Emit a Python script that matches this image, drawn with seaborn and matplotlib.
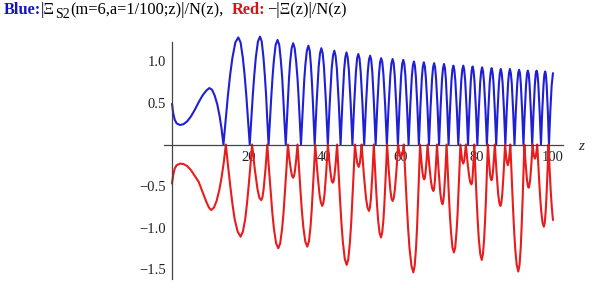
import matplotlib
matplotlib.use("Agg")
import matplotlib.pyplot as plt
import numpy as np
import seaborn as sns

# ---------------- data ----------------
# blue curve |Xi_S2(m=6,a=1/100;z)|/N(z): (z, value) points
blue_points = [
    (0.0, 0.49), (0.3, 0.38), (0.7, 0.30), (1.2, 0.255), (2.1, 0.235), (3.0, 0.245),
    (4.0, 0.28), (5.0, 0.34), (6.0, 0.42), (7.0, 0.51), (8.0, 0.59), (9.0, 0.65),
    (9.8, 0.68), (10.5, 0.66), (11.2, 0.59), (11.9, 0.48), (12.5, 0.34), (13.0, 0.19), (13.5, 0.0),
    (14.09, 0.30), (14.67, 0.59), (15.26, 0.84), (15.84, 1.04), (16.62, 1.23), (17.4, 1.29),
    (18.0, 1.23), (18.6, 1.04), (19.05, 0.84), (19.5, 0.59), (19.95, 0.30), (20.4, 0.0),
    (20.8, 0.30), (21.2, 0.59), (21.6, 0.84), (22.0, 1.05), (22.55, 1.24), (23.1, 1.30),
    (23.55, 1.24), (24.0, 1.05), (24.35, 0.84), (24.7, 0.59), (25.0, 0.30), (25.35, 0.0),
    (25.7, 0.29), (26.05, 0.57), (26.4, 0.82), (26.75, 1.02), (27.2, 1.20), (27.7, 1.26),
    (28.15, 1.20), (28.55, 1.02), (28.9, 0.82), (29.2, 0.57), (29.5, 0.29), (29.85, 0.0),
    (30.15, 0.28), (30.45, 0.55), (30.7, 0.79), (31.0, 0.99), (31.4, 1.16), (31.8, 1.22),
    (32.2, 1.16), (32.6, 0.99), (32.95, 0.79), (33.25, 0.55), (33.55, 0.28), (33.85, 0.0),
    (34.15, 0.28), (34.45, 0.54), (34.7, 0.77), (35.0, 0.96), (35.4, 1.13), (35.8, 1.19),
    (36.15, 1.13), (36.45, 0.96), (36.7, 0.77), (36.95, 0.54), (37.2, 0.28), (37.45, 0.0),
    (37.98, 0.52), (38.5, 0.94), (38.85, 1.10), (39.2, 1.16), (39.54, 1.10), (39.88, 0.94), (40.39, 0.52), (40.9, 0.0),
    (41.41, 0.51), (41.92, 0.92), (42.26, 1.07), (42.6, 1.13), (42.93, 1.07), (43.26, 0.92), (43.76, 0.51), (44.25, 0.0),
    (44.72, 0.50), (45.18, 0.90), (45.49, 1.05), (45.8, 1.11), (46.11, 1.05), (46.42, 0.90), (46.89, 0.50), (47.35, 0.0),
    (47.82, 0.49), (48.28, 0.88), (48.59, 1.04), (48.9, 1.09), (49.21, 1.04), (49.52, 0.88), (49.99, 0.49), (50.45, 0.0),
    (50.92, 0.48), (51.38, 0.87), (51.69, 1.02), (52.0, 1.07), (52.29, 1.02), (52.58, 0.87), (53.02, 0.48), (53.45, 0.0),
    (53.89, 0.47), (54.32, 0.84), (54.61, 0.99), (54.9, 1.04), (55.2, 0.99), (55.5, 0.84), (55.95, 0.47), (56.4, 0.0),
    (56.85, 0.46), (57.3, 0.83), (57.6, 0.98), (57.9, 1.03), (58.18, 0.98), (58.46, 0.83), (58.88, 0.46), (59.3, 0.0),
    (59.72, 0.46), (60.14, 0.83), (60.42, 0.97), (60.7, 1.02), (60.98, 0.97), (61.26, 0.83), (61.68, 0.46), (62.1, 0.0),
    (62.52, 0.45), (62.94, 0.81), (63.22, 0.95), (63.5, 1.00), (63.76, 0.95), (64.02, 0.81), (64.41, 0.45), (64.8, 0.0),
    (65.19, 0.45), (65.58, 0.80), (65.84, 0.94), (66.1, 0.99), (66.37, 0.94), (66.64, 0.80), (67.05, 0.45), (67.45, 0.0),
    (67.86, 0.44), (68.26, 0.79), (68.53, 0.93), (68.8, 0.98), (69.06, 0.93), (69.32, 0.79), (69.71, 0.44), (70.1, 0.0),
    (70.49, 0.44), (70.88, 0.79), (71.14, 0.92), (71.4, 0.97), (71.64, 0.92), (71.88, 0.79), (72.24, 0.44), (72.6, 0.0),
    (72.98, 0.43), (73.35, 0.77), (73.6, 0.90), (73.85, 0.95), (74.11, 0.90), (74.37, 0.77), (74.76, 0.43), (75.15, 0.0),
    (75.54, 0.43), (75.93, 0.77), (76.19, 0.90), (76.45, 0.95), (76.7, 0.90), (76.95, 0.77), (77.33, 0.43), (77.7, 0.0),
    (78.06, 0.42), (78.42, 0.76), (78.66, 0.89), (78.9, 0.94), (79.15, 0.89), (79.4, 0.76), (79.78, 0.42), (80.15, 0.0),
    (80.53, 0.42), (80.9, 0.75), (81.15, 0.88), (81.4, 0.93), (81.65, 0.88), (81.9, 0.75), (82.28, 0.42), (82.65, 0.0),
    (83.03, 0.41), (83.4, 0.75), (83.65, 0.87), (83.9, 0.92), (84.14, 0.87), (84.38, 0.75), (84.74, 0.41), (85.1, 0.0),
    (85.46, 0.41), (85.82, 0.74), (86.06, 0.86), (86.3, 0.91), (86.54, 0.86), (86.78, 0.74), (87.14, 0.41), (87.5, 0.0),
    (87.86, 0.41), (88.22, 0.74), (88.46, 0.86), (88.7, 0.91), (88.94, 0.86), (89.18, 0.74), (89.54, 0.41), (89.9, 0.0),
    (90.26, 0.41), (90.62, 0.73), (90.86, 0.86), (91.1, 0.90), (91.33, 0.86), (91.56, 0.73), (91.9, 0.41), (92.25, 0.0),
    (92.6, 0.40), (92.94, 0.72), (93.17, 0.85), (93.4, 0.89), (93.63, 0.85), (93.86, 0.72), (94.2, 0.40), (94.55, 0.0),
    (94.9, 0.40), (95.24, 0.72), (95.47, 0.85), (95.7, 0.89), (95.93, 0.85), (96.16, 0.72), (96.5, 0.40), (96.85, 0.0),
    (97.18, 0.40), (97.51, 0.71), (97.73, 0.84), (97.95, 0.88), (98.15, 0.84), (98.35, 0.71), (98.65, 0.40), (98.95, 0.0),
    (99.3, 0.40), (99.65, 0.71), (100.0, 0.86),
]

# red curve -|Xi(z)|/N(z): (z, value) points
red_points = [
    (0.0, -0.47), (0.3, -0.37), (0.7, -0.29), (1.2, -0.25), (2.1, -0.23), (3.0, -0.235),
    (4.0, -0.26), (5.0, -0.31), (6.0, -0.38), (7.0, -0.45), (8.0, -0.57), (9.0, -0.69),
    (9.7, -0.76), (10.3, -0.79), (11.0, -0.76), (11.7, -0.68), (12.4, -0.55), (13.0, -0.40),
    (13.6, -0.21), (14.13, 0.0),
    (14.71, -0.26), (15.29, -0.50), (15.87, -0.72), (16.45, -0.90), (17.23, -1.05), (18.0, -1.11),
    (18.6, -1.05), (19.21, -0.90), (19.66, -0.72), (20.11, -0.50), (20.57, -0.26), (21.02, 0.0),
    (21.73, -0.30), (22.45, -0.54), (22.92, -0.64), (23.4, -0.67), (23.72, -0.64), (24.04, -0.54), (24.53, -0.30), (25.01, 0.0),
    (25.44, -0.29), (25.88, -0.56), (26.31, -0.81), (26.74, -1.01), (27.32, -1.19), (27.9, -1.25),
    (28.4, -1.19), (28.91, -1.01), (29.29, -0.81), (29.66, -0.56), (30.04, -0.29), (30.42, 0.0),
    (30.83, -0.18), (31.25, -0.32), (31.52, -0.38), (31.8, -0.40), (32.03, -0.38), (32.26, -0.32), (32.6, -0.18), (32.94, 0.0),
    (33.32, -0.28), (33.71, -0.55), (34.09, -0.80), (34.48, -1.00), (34.99, -1.17), (35.5, -1.23),
    (35.92, -1.17), (36.34, -1.00), (36.65, -0.80), (36.96, -0.55), (37.28, -0.28), (37.59, 0.0),
    (38.15, -0.33), (38.71, -0.60), (39.08, -0.70), (39.45, -0.74), (39.74, -0.70), (40.04, -0.60), (40.48, -0.33), (40.92, 0.0),
    (41.3, -0.21), (41.69, -0.37), (41.94, -0.44), (42.2, -0.46), (42.43, -0.44), (42.65, -0.37), (42.99, -0.21), (43.33, 0.0),
    (43.71, -0.33), (44.09, -0.65), (44.46, -0.94), (44.84, -1.17), (45.35, -1.38), (45.85, -1.45),
    (46.28, -1.38), (46.71, -1.17), (47.04, -0.94), (47.36, -0.65), (47.69, -0.33), (48.01, 0.0),
    (48.31, -0.12), (48.6, -0.22), (49.0, -0.27), (49.31, -0.22), (49.54, -0.12), (49.77, 0.0),
    (50.35, -0.36), (50.93, -0.65), (51.31, -0.76), (51.7, -0.80), (51.95, -0.76), (52.21, -0.65), (52.59, -0.36), (52.97, 0.0),
    (53.25, -0.26), (53.53, -0.50), (53.82, -0.73), (54.1, -0.91), (54.47, -1.06), (54.85, -1.12),
    (55.17, -1.06), (55.49, -0.91), (55.73, -0.73), (55.97, -0.50), (56.21, -0.26), (56.45, 0.0),
    (56.89, -0.31), (57.32, -0.55), (57.61, -0.65), (57.9, -0.68), (58.19, -0.65), (58.48, -0.55), (58.92, -0.31), (59.35, 0.0),
    (59.6, -0.08), (59.8, -0.12), (60.1, -0.15), (60.4, -0.12), (60.6, -0.08), (60.83, 0.0),
    (61.21, -0.35), (61.59, -0.69), (61.96, -1.00), (62.34, -1.25), (62.85, -1.46), (63.35, -1.54),
    (63.7, -1.46), (64.05, -1.25), (64.32, -1.00), (64.58, -0.69), (64.85, -0.35), (65.11, 0.0),
    (65.44, -0.19), (65.76, -0.34), (65.98, -0.40), (66.2, -0.42), (66.38, -0.40), (66.55, -0.34), (66.82, -0.19), (67.08, 0.0),
    (67.54, -0.25), (67.99, -0.45), (68.3, -0.53), (68.6, -0.56), (68.79, -0.53), (68.98, -0.45), (69.27, -0.25), (69.55, 0.0),
    (69.99, -0.32), (70.42, -0.58), (70.71, -0.68), (71.0, -0.72), (71.21, -0.68), (71.43, -0.58), (71.75, -0.32), (72.07, 0.0),
    (72.36, -0.30), (72.65, -0.59), (72.94, -0.85), (73.23, -1.05), (73.61, -1.24), (74.0, -1.30),
    (74.34, -1.24), (74.68, -1.05), (74.94, -0.85), (75.19, -0.59), (75.45, -0.30), (75.7, 0.0),
    (75.93, -0.10), (76.15, -0.19), (76.45, -0.23), (76.72, -0.19), (76.92, -0.10), (77.14, 0.0),
    (77.58, -0.22), (78.02, -0.39), (78.31, -0.46), (78.6, -0.48), (78.75, -0.46), (78.9, -0.39), (79.12, -0.22), (79.34, 0.0),
    (79.63, -0.32), (79.93, -0.63), (80.22, -0.90), (80.52, -1.13), (80.91, -1.32), (81.3, -1.39),
    (81.62, -1.32), (81.94, -1.13), (82.19, -0.90), (82.43, -0.63), (82.67, -0.32), (82.91, 0.0),
    (83.19, -0.19), (83.47, -0.35), (83.66, -0.41), (83.85, -0.43), (84.03, -0.41), (84.2, -0.35), (84.47, -0.19), (84.74, 0.0),
    (85.18, -0.33), (85.62, -0.60), (85.91, -0.70), (86.2, -0.74), (86.45, -0.70), (86.69, -0.60), (87.06, -0.33), (87.43, 0.0),
    (87.65, -0.11), (87.86, -0.20), (88.15, -0.25), (88.41, -0.20), (88.61, -0.11), (88.81, 0.0),
    (89.12, -0.35), (89.44, -0.69), (89.75, -0.99), (90.06, -1.24), (90.48, -1.45), (90.9, -1.53),
    (91.22, -1.45), (91.54, -1.24), (91.77, -0.99), (92.01, -0.69), (92.25, -0.35), (92.49, 0.0),
    (92.82, -0.23), (93.16, -0.42), (93.38, -0.49), (93.6, -0.52), (93.81, -0.49), (94.02, -0.42), (94.34, -0.23), (94.65, 0.0),
    (94.83, -0.08), (95.01, -0.14), (95.25, -0.17), (95.5, -0.14), (95.68, -0.08), (95.87, 0.0),
    (96.13, -0.23), (96.39, -0.45), (96.65, -0.64), (96.91, -0.80), (97.25, -0.94), (97.6, -0.99),
    (97.85, -0.94), (98.09, -0.80), (98.28, -0.64), (98.46, -0.45), (98.65, -0.23), (98.83, 0.0),
    (99.1, -0.28), (99.4, -0.55), (99.7, -0.76), (100.0, -0.91),
]

x_tick_values = [20, 40, 60, 80, 100]
x_tick_labels = ["20", "40", "60", "80", "100"]
y_tick_values = [-1.5, -1.0, -0.5, 0.5, 1.0]
y_tick_labels = ["\u22121.5", "\u22121.0", "\u22120.5", "0.5", "1.0"]

title_parts = [
    ("Blue:", "bold", "#1414c0", 0),
    ("|\u039e", "normal", "black", 0),
    ("S2", "normal", "black", -4),
    ("(m=6,a=1/100;z)|/N(z),", "normal", "black", 0),
    ("Red:", "bold", "#d41414", 0),
    ("\u2212|\u039e(z)|/N(z)", "normal", "black", 0),
]

BLUE = "#1f1fd6"
RED = "#e81c1c"

# ---------------- figure ----------------
sns.set_style("white")
plt.rcParams["font.family"] = ["Liberation Serif", "DejaVu Serif"]

W, H = 592, 288
fig = plt.figure(figsize=(W / 100, H / 100), dpi=100)
ax_left, ax_right = 164.4, 562.5
ax_top, ax_bot = 34.1, 279.0
ax = fig.add_axes([ax_left / W, (H - ax_bot) / H, (ax_right - ax_left) / W, (ax_bot - ax_top) / H])

bz, bv = zip(*blue_points)
rz, rv = zip(*red_points)
sns.lineplot(x=list(bz), y=list(bv), ax=ax, color=BLUE, lw=1.5, estimator=None, sort=False)
sns.lineplot(x=list(rz), y=list(rv), ax=ax, color=RED, lw=1.5, estimator=None, sort=False)

ax.set_xlim(-2, 102.5)
ax.set_ylim(-1.62, 1.33)
ax.set_xlabel("")
ax.set_ylabel("")
for s in ["top", "right"]:
    ax.spines[s].set_visible(False)
for s in ["left", "bottom"]:
    ax.spines[s].set_color("#444444")
    ax.spines[s].set_linewidth(0.9)
ax.spines["left"].set_position(("data", 0))
ax.spines["bottom"].set_position(("data", 0))
ax.spines["left"].set_bounds(-1.62, 1.24)
ax.spines["bottom"].set_bounds(-2, 102.5)

ax.set_xticks(x_tick_values)
ax.set_xticklabels(x_tick_labels)
ax.set_xticks([v for v in range(5, 100, 5) if v % 20], minor=True)
ax.set_yticks(y_tick_values)
ax.set_yticklabels(y_tick_labels)
ax.set_yticks([round(v, 1) for v in np.arange(-1.6, 1.25, 0.1) if abs(round(v * 2) - v * 2) > 1e-6], minor=True)
ax.tick_params(which="major", direction="in", length=4.5, width=0.8, color="#444444",
               labelsize=10.5, labelcolor="#222222", pad=4.5)
ax.tick_params(which="minor", direction="in", length=2.5, width=0.7, color="#444444")
ax.tick_params(axis="x", which="major", pad=5)
ax.grid(False)

ax.text(106.6, -0.02, "z", fontsize=11, style="italic", va="center", ha="left", clip_on=False)

# ---------------- title with mixed colours ----------------
fig.canvas.draw()
renderer = fig.canvas.get_renderer()
x_px = 3.5
base_px = H - 14.0
gaps = {4: 9.0, 5: 1.5}
for i, (txt, weight, col, dy) in enumerate(title_parts):
    x_px += gaps.get(i, 0.0)
    size = 11.8 if dy == 0 else 10.0
    t = fig.text(x_px / W, (base_px + dy) / H, txt, fontsize=size, fontweight=weight,
                 color=col, ha="left", va="baseline")
    bb = t.get_window_extent(renderer=renderer)
    x_px = bb.x1 + (0.5 if i == 0 else 0)

fig.savefig("out.png", dpi=100)
